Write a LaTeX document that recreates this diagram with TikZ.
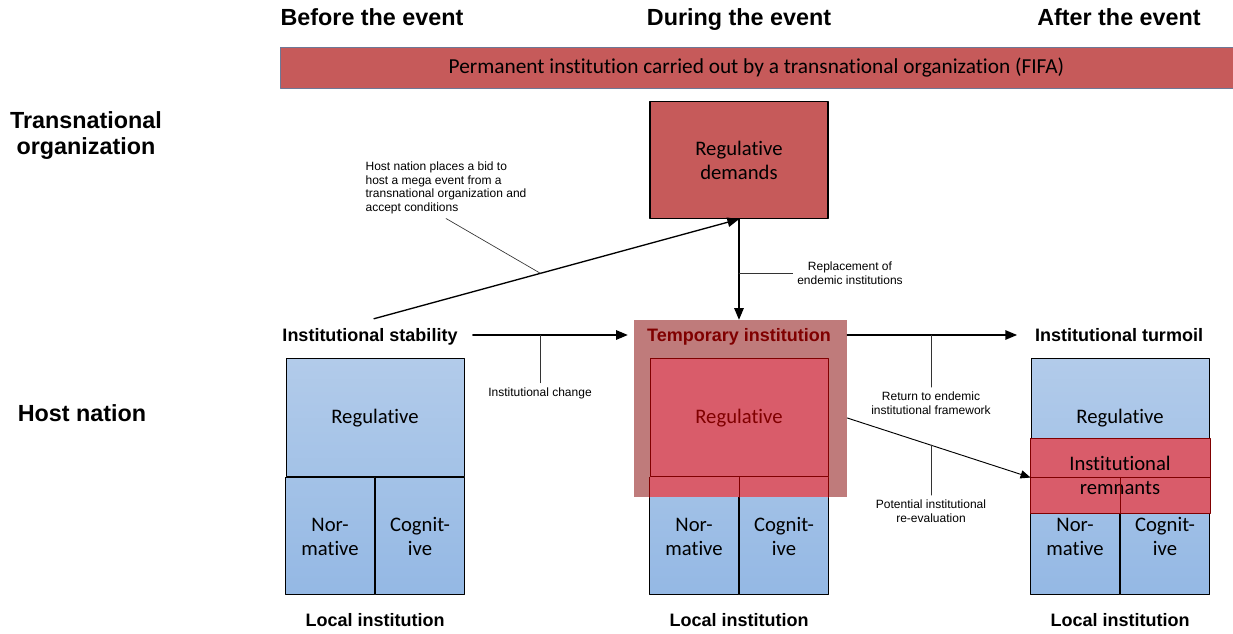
\documentclass[tikz,border=0pt]{standalone}
\usepackage{fontspec}
\setmainfont{Liberation Sans}
\newfontfamily\calibri[Ligatures=NoCommon]{Carlito}
\usepackage{tikz}
\usetikzlibrary{arrows}

\definecolor{fifared}{RGB}{198,90,90}
\definecolor{tempred}{RGB}{191,123,123}
\definecolor{remred}{RGB}{217,92,106}
\definecolor{darkred}{RGB}{128,0,0}
\definecolor{boxblue1}{RGB}{178,203,234}
\definecolor{boxmid}{RGB}{163,194,231}
\definecolor{boxblue2}{RGB}{148,184,228}
\definecolor{bannerline}{RGB}{110,120,150}

\tikzset{
  level/.style={font=\bfseries\fontsize{17.5}{19.5}\selectfont, align=center},
  stage/.style={level, text height=16pt, text depth=3.47pt},
  heading/.style={font=\bfseries\fontsize{13.5}{16}\selectfont, text height=12.5pt, text depth=2.83pt},
  note/.style={font=\fontsize{9}{10.1}\selectfont, align=center},
  boxtext/.style={font=\calibri\fontsize{15.5}{18}\selectfont, align=center},
  part/.style={boxtext, line width=0.75pt, inner sep=0pt},
  link/.style={line width=0.5pt, black!80},
}

\begin{document}
\begin{tikzpicture}[line cap=round,line join=round,>=triangle 45,x=0.75pt,y=-0.75pt]
\useasboundingbox (0,0) rectangle (1233,634);
% stages and levels
\node[stage] (before) at (372,17) {Before the event};
\node[stage] (during) at (739,17) {During the event};
\node[stage] (after) at (1119,17) {After the event};
\node[level] (transorg) at (86,136) {Transnational\\organization};
\node[level] (host) at (82,413) {Host nation};
% transnational organization
\node[draw=bannerline, line width=0.6pt, fill=fifared, minimum width=714.75pt, minimum height=30.75pt, boxtext, font=\calibri\fontsize{16}{18}\selectfont] (fifa) at (756.5,67.5) {Permanent institution carried out by a transnational organization (FIFA)};
\node[draw=black, line width=1pt, fill=fifared, minimum width=133.5pt, minimum height=87.75pt, boxtext] (demands) at (739,160) {Regulative\\demands};
% temporary institution
\node[fill=tempred, minimum width=159.75pt, minimum height=132.75pt, inner sep=0pt] (temp) at (740.5,408.5) {};
\node[heading, text=darkred] (templabel) at (739,335) {Temporary institution};
% local institutions
\foreach \x/\n/\up/\down/\ink in {375/A/boxblue1/boxmid/black, 739/B/remred/remred/darkred, 1120/C/boxblue1/boxmid/black}{
  \node[part, draw=\ink, text=\ink, top color=\up, bottom color=\down, minimum width=133.5pt, minimum height=88.5pt] (reg\n) at (\x,418) {Regulative};
  \node[part, draw=black, top color=boxmid, bottom color=boxblue2, minimum width=66.75pt, minimum height=87.75pt, anchor=north east] (norm\n) at (reg\n.south) {Nor-\\mative};
  \node[part, draw=black, top color=boxmid, bottom color=boxblue2, minimum width=66.75pt, minimum height=87.75pt, anchor=north west] (cogn\n) at (reg\n.south) {Cognit-\\ive};
  \node[heading] (local\n) at (\x,620) {Local institution};
}
\fill[remred] (regB.south west) rectangle (regB.east |- temp.south);
\draw[darkred, line width=0.75pt] (regB.south west) -- (regB.west |- temp.south) (regB.south) -- (regB.south |- temp.south) (regB.south east) -- (regB.east |- temp.south);
\node[fill=remred, draw=darkred, line width=0.6pt, minimum width=135pt, minimum height=56.25pt, inner sep=0pt, boxtext] (remnants) at (1120,475.5) {Institutional\\remnants};
\draw[darkred, line width=0.75pt] (regC.south west) -- (regC.south east) (regC.south) -- (regC.south |- remnants.south);
% states
\node[heading] (stab) at (370,335) {Institutional stability};
\node[heading] (turm) at (1119,335) {Institutional turmoil};
% connectors
\draw[->, line width=1pt] ([xshift=3pt,yshift=1pt]stab.north) -- coordinate[pos=0.456] (bidpt) (demands.south);
\draw[->, line width=1pt] (demands.south) -- (demands.south |- temp.north);
\draw[->, line width=1pt, shorten <=8pt, shorten >=4.5pt] (stab.east) -- (stab -| temp.west);
\draw[->, line width=1pt, shorten >=10pt] (temp.east |- turm) -- (turm.west);
\draw[->, line width=0.7pt] (temp.east |- regB) -- coordinate[pos=0.456] (reevpt) (regC.south west);
% annotations
\node[note, align=left] (bid) at (446,188) {Host nation places a bid to\\host a mega event from a\\transnational organization and\\accept conditions};
\draw[link] (bid.south) -- (bidpt);
\node[note] (repl) at (850,273) {Replacement of\\endemic institutions};
\draw[link] (repl.west) -- (repl.west -| demands.south);
\node[note] (chg) at (540,393) {Institutional change};
\draw[link] (chg.north) -- (chg.north |- stab);
\node[note] (ret) at (931,403) {Return to endemic\\institutional framework};
\draw[link] (ret.north) -- (ret.north |- turm);
\node[note] (reev) at (931,511) {Potential institutional\\re-evaluation};
\draw[link] (reev.north) -- (reev.north |- reevpt);
\end{tikzpicture}
\end{document}
